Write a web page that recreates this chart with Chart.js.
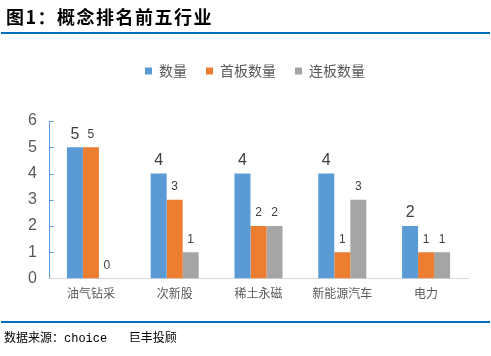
<!DOCTYPE html>
<html>
<head>
<meta charset="utf-8">
<script src="https://cdn.jsdelivr.net/npm/chart.js@4"></script>
<style>
  html, body { margin: 0; padding: 0; background: #fff; }
  body { width: 491px; height: 356px; position: relative; overflow: hidden; }
  #title { position: absolute; left: 6px; top: 5px; font: bold 18px "Noto Sans CJK SC", sans-serif; letter-spacing: 1.5px; color: #000; line-height: 22px; white-space: nowrap; }
  .rule { position: absolute; left: 1px; width: 489px; height: 2px; background: #0070C0; }
  #footer { position: absolute; left: 4px; top: 331px; font: 12px "Liberation Mono", "Noto Sans CJK SC", monospace; color: #000; line-height: 16px; white-space: pre; }
  #wrap { position: absolute; left: 0; top: 0; width: 491px; height: 356px; }
</style>
</head>
<body>
<div id="wrap"><canvas id="c" width="491" height="356"></canvas></div>
<div id="title">图1：概念排名前五行业</div>
<div class="rule" style="top:32px"></div>
<div class="rule" style="top:321px"></div>
<div id="footer">数据来源：choice   巨丰投顾</div>
<script>
const categories = ['油气钻采', '次新股', '稀土永磁', '新能源汽车', '电力'];
const seriesNames = ['数量', '首板数量', '连板数量'];
const countValues = [5, 4, 4, 4, 2];
const firstBoardValues = [5, 3, 2, 1, 1];
const streakBoardValues = [0, 1, 2, 3, 1];
const yTicks = [0, 1, 2, 3, 4, 5, 6];

const colors = ['#5B9BD5', '#ED7D31', '#A5A5A5'];
const labelFontSizes = [16, 12, 12];

const valueLabels = {
  id: 'valueLabels',
  afterDatasetsDraw(chart) {
    const ctx = chart.ctx;
    ctx.save();
    ctx.textAlign = 'center';
    ctx.textBaseline = 'middle';
    ctx.fillStyle = '#404040';
    chart.data.datasets.forEach((ds, i) => {
      const meta = chart.getDatasetMeta(i);
      ctx.font = labelFontSizes[i] + 'px "Liberation Sans", "Noto Sans CJK SC", sans-serif';
      meta.data.forEach((bar, j) => {
        ctx.fillText(String(ds.data[j]), bar.x, bar.y - 13);
      });
    });
    ctx.restore();
  }
};

const innerTicks = {
  id: 'innerTicks',
  afterDraw(chart) {
    const y = chart.scales.y;
    const ctx = chart.ctx;
    ctx.save();
    ctx.strokeStyle = '#5B9BD5';
    ctx.lineWidth = 1;
    ctx.beginPath();
    const x0 = Math.round(chart.chartArea.left) + 0.5;
    ctx.moveTo(x0, y.getPixelForValue(6));
    ctx.lineTo(x0, y.getPixelForValue(0));
    yTicks.forEach(v => {
      if (v === 0) return;
      const py = Math.round(y.getPixelForValue(v)) + 0.5;
      ctx.moveTo(x0, py);
      ctx.lineTo(x0 + 4, py);
    });
    ctx.stroke();
    ctx.restore();
  }
};

const legendTweak = {
  id: 'legendTweak',
  beforeLayout(chart) {
    const lg = chart.legend;
    if (lg && !lg._patched) {
      const origFit = lg.fit;
      lg.fit = function () { origFit.call(this); this.height += 33; };
      lg._patched = true;
    }
  },
  afterLayout(chart) {
    const lg = chart.legend;
    if (lg) { lg.left += 21; lg.right += 21; }
  }
};

new Chart(document.getElementById('c'), {
  type: 'bar',
  data: {
    labels: categories,
    datasets: [
      { label: seriesNames[0], data: countValues, backgroundColor: colors[0] },
      { label: seriesNames[1], data: firstBoardValues, backgroundColor: colors[1] },
      { label: seriesNames[2], data: streakBoardValues, backgroundColor: colors[2] }
    ]
  },
  options: {
    responsive: false,
    animation: false,
    devicePixelRatio: 1,
    layout: { padding: { top: 45, right: 23, bottom: 47, left: 0 } },
    datasets: { bar: { categoryPercentage: 0.573, barPercentage: 1.0 } },
    plugins: {
      tooltip: { enabled: false },
      legend: {
        position: 'top',
        labels: {
          boxWidth: 7, boxHeight: 7, padding: 19,
          color: '#595959',
          font: { size: 14, family: '"Noto Sans CJK SC", sans-serif' }
        }
      }
    },
    scales: {
      x: {
        grid: { display: false, drawTicks: false },
        border: { color: '#D9D9D9', width: 1 },
        ticks: { color: '#595959', padding: 8, font: { size: 12, family: '"Noto Sans CJK SC", sans-serif' } }
      },
      y: {
        min: 0, max: 6,
        afterFit(s) { s.width = 49; },
        grid: { display: false, drawTicks: false },
        border: { display: false },
        ticks: { stepSize: 1, color: '#595959', padding: 12, font: { size: 16, family: '"Liberation Sans", sans-serif' } }
      }
    }
  },
  plugins: [valueLabels, innerTicks, legendTweak]
});
</script>
</body>
</html>
